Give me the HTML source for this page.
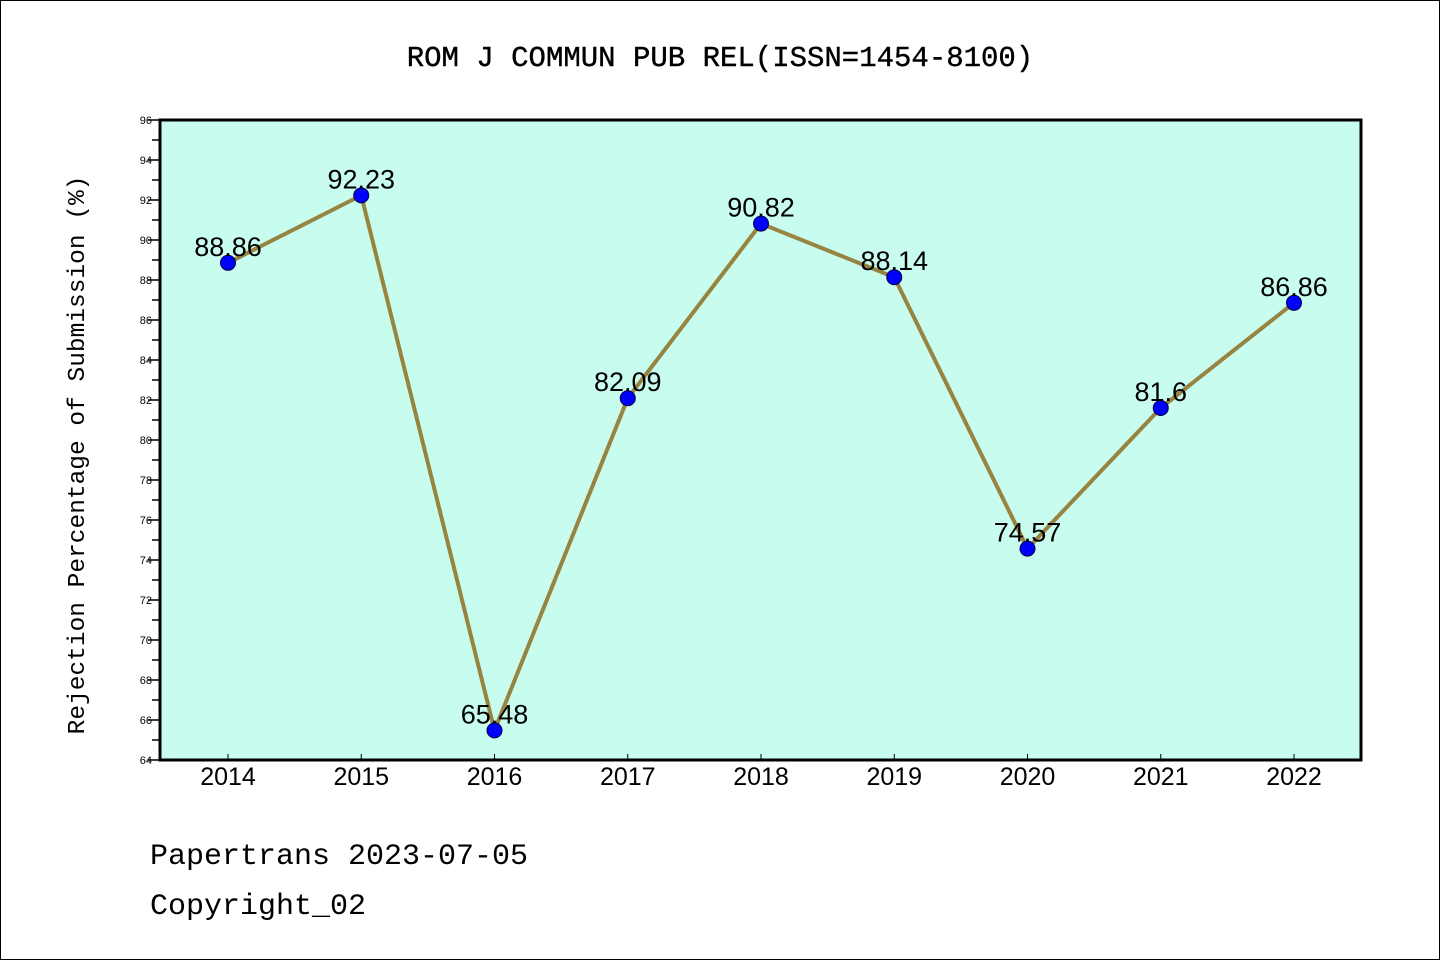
<!DOCTYPE html>
<html><head><meta charset="utf-8"><style>
html,body{margin:0;padding:0;background:#fff}
svg{display:block}
</style></head><body>
<svg id="chart" width="1440" height="960" xmlns="http://www.w3.org/2000/svg">
<rect x="0.5" y="0.5" width="1439" height="959" fill="#fff" stroke="#000" stroke-width="1"/>
<text x="720" y="66" text-anchor="middle" font-family="Liberation Mono, monospace" font-size="29" fill="#000" stroke="#000" stroke-width="0.4">ROM J COMMUN PUB REL(ISSN=1454-8100)</text>
<rect x="160" y="120" width="1201" height="640" fill="#c8fcee"/>
<g id="axes"></g>
<g id="series"></g>
<rect x="160" y="120" width="1201" height="640" fill="none" stroke="#000" stroke-width="3"/>
<text transform="translate(84,455) rotate(-90)" text-anchor="middle" font-family="Liberation Mono, monospace" font-size="24.5" fill="#000">Rejection Percentage of Submission (%)</text>
<text x="150" y="864" font-family="Liberation Mono, monospace" font-size="30" fill="#000">Papertrans 2023-07-05</text>
<text x="150" y="914" font-family="Liberation Mono, monospace" font-size="30" fill="#000">Copyright_02</text>
</svg>
<script>
const years = ["2014","2015","2016","2017","2018","2019","2020","2021","2022"];
const rejection = [88.86, 92.23, 65.48, 82.09, 90.82, 88.14, 74.57, 81.6, 86.86];
const yTicks = [64,66,68,70,72,74,76,78,80,82,84,86,88,90,92,94,96];

const NS = "http://www.w3.org/2000/svg";
const yMin = 64, yMax = 96, plotTop = 120, plotBottom = 760;
const x0 = 228, x1 = 1294;
function xPos(i){ return x0 + (x1 - x0) * i / (years.length - 1); }
function yPos(v){ return plotBottom - (v - yMin) / (yMax - yMin) * (plotBottom - plotTop); }
function mk(tag, attrs, parent){ const e = document.createElementNS(NS, tag); for (const k in attrs) e.setAttribute(k, attrs[k]); parent.appendChild(e); return e; }

const axes = document.getElementById("axes");
yTicks.forEach(t => {
  const y = yPos(t);
  const tk = mk("line", {x1:148, x2:160, y1:y, y2:y, stroke:"#000", "stroke-width":1.5}, axes);
  
  
  const lb = mk("text", {x:152, y:y+4, "text-anchor":"end", "font-family":"Liberation Sans, sans-serif", "font-size":11, fill:"#000"}, axes);
  
  
  lb.textContent = t;
  if (t < yMax) {
    const ym = yPos(t + 1);
    const mn = mk("line", {x1:152, x2:160, y1:ym, y2:ym, stroke:"#000", "stroke-width":1.5}, axes);
    
    
  }
});
years.forEach((yr, i) => {
  const x = xPos(i);
  const tk = mk("line", {x1:x, x2:x, y1:plotBottom-6, y2:plotBottom, stroke:"#000", "stroke-width":1}, axes);
  
  
  const lb = mk("text", {x:x, y:785, "text-anchor":"middle", "font-family":"Liberation Sans, sans-serif", "font-size":25, fill:"#000"}, axes);
  
  
  lb.textContent = yr;
});

const series = document.getElementById("series");
const pts = rejection.map((v, i) => xPos(i) + "," + yPos(v)).join(" ");
const line = mk("polyline", {points:pts, fill:"none", stroke:"#968440", "stroke-width":4, "stroke-linejoin":"round"}, series);


rejection.forEach((v, i) => {
  const c = mk("circle", {cx:xPos(i), cy:yPos(v), r:7.5, fill:"#0000ff", stroke:"#000040", "stroke-width":1}, series);
  
  
});
rejection.forEach((v, i) => {
  const t = mk("text", {x:xPos(i), y:yPos(v)-7, "text-anchor":"middle", "font-family":"Liberation Sans, sans-serif", "font-size":27, fill:"#000"}, series);
  
  
  t.textContent = String(v);
});
</script>
</body></html>
